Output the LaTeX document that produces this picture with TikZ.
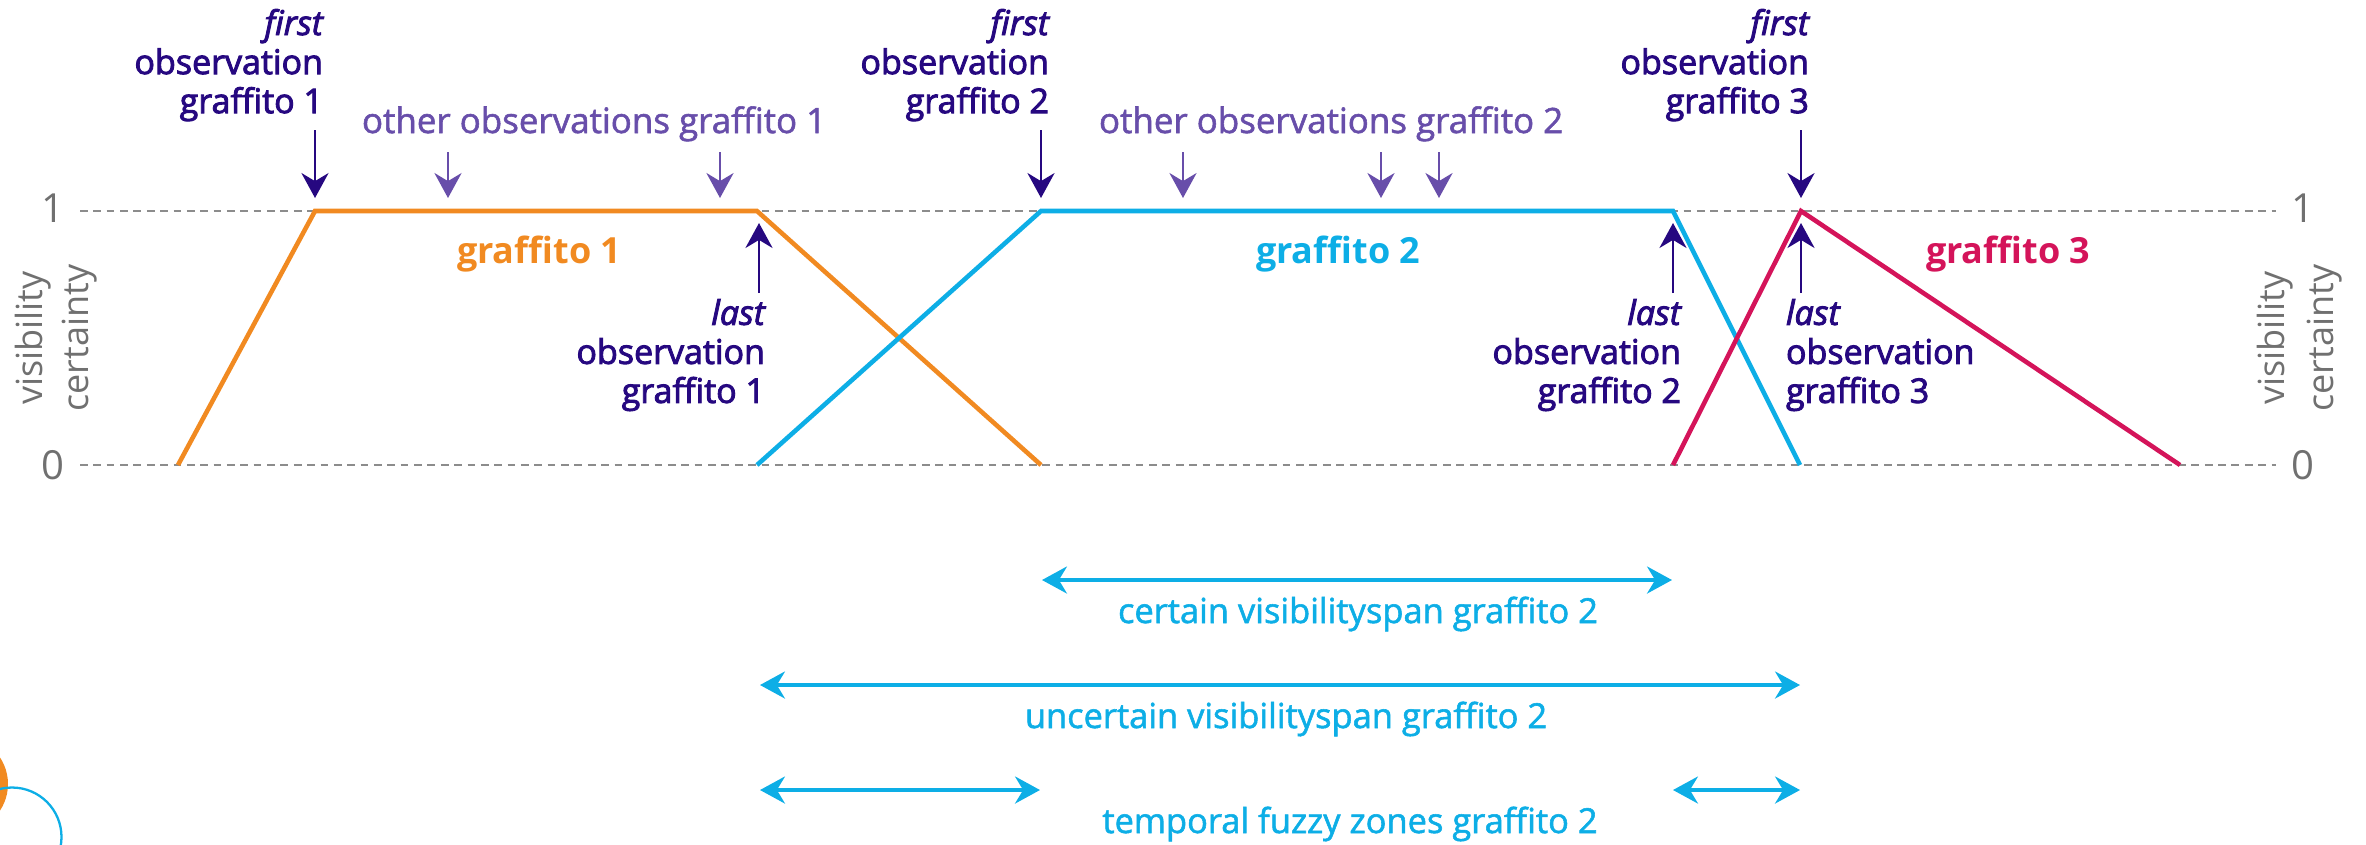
\documentclass[tikz,border=0pt]{standalone}
\usepackage{fontspec}
\setmainfont{Open Sans}
\newfontfamily\semib[FakeBold=2.6]{Open Sans}
\newfontfamily\medf[FakeBold=1.6]{Open Sans}
\usetikzlibrary{arrows.meta}
\definecolor{gOrange}{HTML}{F18A21}
\definecolor{gBlue}{HTML}{0DAEE6}
\definecolor{gRed}{HTML}{D4145A}
\definecolor{gInk}{HTML}{260880}
\definecolor{gPurple}{HTML}{684EAA}
\definecolor{gGray}{HTML}{707070}
\definecolor{gDash}{HTML}{8C8C8C}
\begin{document}
\begin{tikzpicture}[x=0.01cm,y=-0.01cm,
  every node/.style={inner sep=0pt,outer sep=0pt},
  lbl/.style={font=\semib\fontsize{9.67pt}{11.1pt}\selectfont,text=gInk,align=right},
  lbll/.style={font=\semib\fontsize{9.67pt}{11.1pt}\selectfont,text=gInk,align=left},
  otherlbl/.style={font=\medf\fontsize{9.93pt}{11.1pt}\selectfont,text=gPurple},
  glbl/.style={font=\bfseries\fontsize{10.24pt}{12pt}\selectfont},
  axnum/.style={font=\fontsize{11.4pt}{13pt}\selectfont,text=gGray},
  axlbl/.style={font=\fontsize{10.24pt}{12pt}\selectfont,text=gGray,rotate=90,anchor=base},
  spanlbl/.style={font=\medf\fontsize{9.8pt}{11.5pt}\selectfont,text=gBlue,anchor=base},
  guide/.style={draw=gDash,line width=0.62pt,dash pattern=on 2.2pt off 1.6pt},
  curve/.style={line width=1.3pt},
  obsarrow/.style={draw=gInk,line width=0.75pt,-{Stealth[length=7.1pt,width=7.7pt,inset=2.3pt]}},
  otharrow/.style={draw=gPurple,line width=0.75pt,-{Stealth[length=7.1pt,width=7.7pt,inset=2.3pt]}},
  spanarrow/.style={draw=gBlue,line width=0.95pt,{Stealth[length=7.1pt,width=7.7pt,inset=2.3pt]}-{Stealth[length=7.1pt,width=7.7pt,inset=2.3pt]}}
]
\useasboundingbox (0,0) rectangle (2366,844);

% logo fragment
\fill[gOrange] (-40,784) circle[radius=48];
\draw[gBlue,line width=0.65pt] (12,837) circle[radius=49.5];

% guide lines
\coordinate (d1a) at (80,211); \coordinate (d1b) at (2276,211);
\coordinate (d0a) at (80,465); \coordinate (d0b) at (2276,465);
\draw[guide] (d1a) -- (d1b);
\draw[guide] (d0a) -- (d0b);

% axis labels
\node[axnum] (y1l) at (53,208) {1};
\node[axnum] (y0l) at (53,465) {0};
\node[axnum] (y1r) at (2303,208) {1};
\node[axnum] (y0r) at (2303,465) {0};
\node[axlbl] (vl) at (42,338) {visibility};
\node[axlbl] (cl) at (88,338) {certainty};
\node[axlbl] (vr) at (2284,338) {visibility};
\node[axlbl] (cr) at (2333,338) {certainty};

% curves
\draw[curve,gOrange] (178,465) -- (315,211) -- (757,211) -- (1041,465);
\draw[curve,gBlue] (757,465) -- (1041,211) -- (1673,211) -- (1800,465);
\draw[curve,gRed] (1673,465) -- (1801,211) -- (2180,465);

\node[glbl,text=gOrange,anchor=base west] (g1) at (457,263) {graffito 1};
\node[glbl,text=gBlue,anchor=base west] (g2) at (1256,263) {graffito 2};
\node[glbl,text=gRed,anchor=base west] (g3) at (1926,263) {graffito 3};

% first observation labels
\node[lbl,anchor=north east] (f1) at (323,9) {{\itshape first}\\observation\\graffito 1};
\node[lbl,anchor=north east] (f2) at (1049,9) {{\itshape first}\\observation\\graffito 2};
\node[lbl,anchor=north east] (f3) at (1809,9) {{\itshape first}\\observation\\graffito 3};
\coordinate (f1s) at (315,130); \coordinate (f1e) at (315,198);
\coordinate (f2s) at (1041,130); \coordinate (f2e) at (1041,198);
\coordinate (f3s) at (1801,130); \coordinate (f3e) at (1801,198);
\draw[obsarrow] (f1s) -- (f1e);
\draw[obsarrow] (f2s) -- (f2e);
\draw[obsarrow] (f3s) -- (f3e);

% last observation labels
\node[lbl,anchor=north east] (l1) at (765,299) {{\itshape last}\\observation\\graffito 1};
\node[lbl,anchor=north east] (l2) at (1681,299) {{\itshape last}\\observation\\graffito 2};
\node[lbll,anchor=north west] (l3) at (1786,299) {{\itshape last}\\observation\\graffito 3};
\coordinate (l1s) at (759,293); \coordinate (l1e) at (759,223);
\coordinate (l2s) at (1673,293); \coordinate (l2e) at (1673,223);
\coordinate (l3s) at (1801,293); \coordinate (l3e) at (1801,223);
\draw[obsarrow] (l1s) -- (l1e);
\draw[obsarrow] (l2s) -- (l2e);
\draw[obsarrow] (l3s) -- (l3e);

% other observations
\node[otherlbl,anchor=base west] (o1) at (362,133) {other observations graffito 1};
\node[otherlbl,anchor=base west] (o2) at (1099,133) {other observations graffito 2};
\coordinate (o1as) at (448,152); \coordinate (o1ae) at (448,198);
\coordinate (o1bs) at (720,152); \coordinate (o1be) at (720,198);
\coordinate (o2as) at (1183,152); \coordinate (o2ae) at (1183,198);
\coordinate (o2bs) at (1381,152); \coordinate (o2be) at (1381,198);
\coordinate (o2cs) at (1439,152); \coordinate (o2ce) at (1439,198);
\draw[otharrow] (o1as) -- (o1ae);
\draw[otharrow] (o1bs) -- (o1be);
\draw[otharrow] (o2as) -- (o2ae);
\draw[otharrow] (o2bs) -- (o2be);
\draw[otharrow] (o2cs) -- (o2ce);

% spans
\coordinate (c1) at (1042,580); \coordinate (c2) at (1672,580);
\coordinate (u1) at (760,685); \coordinate (u2) at (1800,685);
\coordinate (z1) at (760,790); \coordinate (z2) at (1040,790);
\coordinate (z3) at (1673,790); \coordinate (z4) at (1800,790);
\draw[spanarrow] (c1) -- (c2);
\draw[spanarrow] (u1) -- (u2);
\draw[spanarrow] (z1) -- (z2);
\draw[spanarrow] (z3) -- (z4);
\node[spanlbl] (t1) at (1358,623) {certain visibilityspan graffito 2};
\node[spanlbl] (t2) at (1286,728) {uncertain visibilityspan graffito 2};
\node[spanlbl] (t3) at (1350,833) {temporal fuzzy zones graffito 2};
\end{tikzpicture}
\end{document}
